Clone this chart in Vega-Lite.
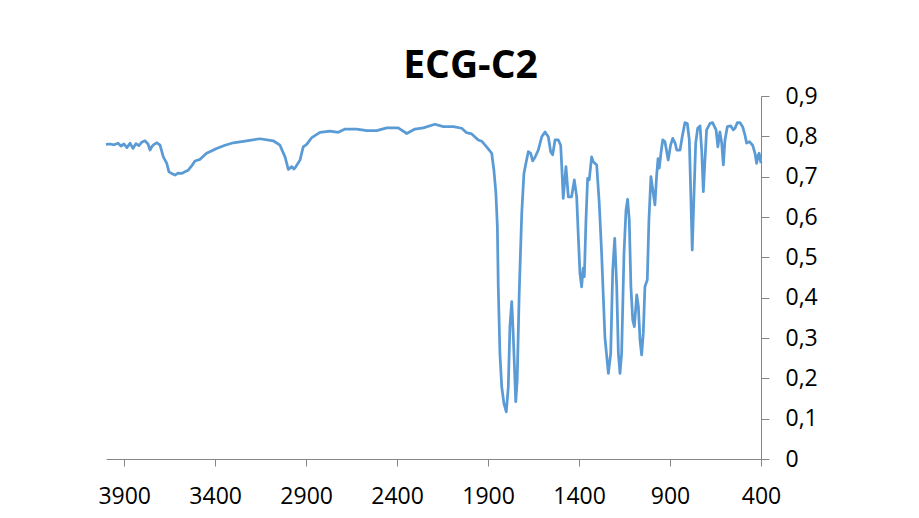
{
  "$schema": "https://vega.github.io/schema/vega-lite/v6.json",
  "width": 655,
  "height": 363,
  "autosize": {"type": "none"},
  "padding": {"left": 106, "top": 96, "right": 158, "bottom": 59},
  "background": "#ffffff",
  "config": {"view": {"stroke": null}},
  "title": {
    "text": "ECG-C2",
    "font": "Open Sans",
    "fontSize": 39,
    "fontWeight": "bold",
    "color": "#000000",
    "anchor": "middle",
    "frame": "group",
    "dx": 37,
    "baseline": "alphabetic",
    "offset": -32
  },
  "data": {
    "values": [
      {"wn": 4000, "v": 0.780}, {"wn": 3978, "v": 0.781}, {"wn": 3956, "v": 0.779}, {"wn": 3934, "v": 0.783},
      {"wn": 3918, "v": 0.776}, {"wn": 3901, "v": 0.781}, {"wn": 3885, "v": 0.772}, {"wn": 3868, "v": 0.783},
      {"wn": 3852, "v": 0.770}, {"wn": 3835, "v": 0.782}, {"wn": 3819, "v": 0.777}, {"wn": 3802, "v": 0.786},
      {"wn": 3786, "v": 0.789}, {"wn": 3769, "v": 0.781}, {"wn": 3758, "v": 0.766}, {"wn": 3749, "v": 0.774},
      {"wn": 3736, "v": 0.780}, {"wn": 3720, "v": 0.784}, {"wn": 3703, "v": 0.778}, {"wn": 3685, "v": 0.749},
      {"wn": 3666, "v": 0.733}, {"wn": 3654, "v": 0.712}, {"wn": 3639, "v": 0.708}, {"wn": 3621, "v": 0.704},
      {"wn": 3604, "v": 0.709}, {"wn": 3584, "v": 0.708}, {"wn": 3566, "v": 0.712}, {"wn": 3548, "v": 0.716},
      {"wn": 3527, "v": 0.728}, {"wn": 3511, "v": 0.739}, {"wn": 3483, "v": 0.743}, {"wn": 3447, "v": 0.758},
      {"wn": 3392, "v": 0.770}, {"wn": 3346, "v": 0.778}, {"wn": 3300, "v": 0.784}, {"wn": 3227, "v": 0.789},
      {"wn": 3154, "v": 0.794}, {"wn": 3081, "v": 0.789}, {"wn": 3044, "v": 0.778}, {"wn": 3016, "v": 0.749},
      {"wn": 2998, "v": 0.718}, {"wn": 2979, "v": 0.725}, {"wn": 2967, "v": 0.719}, {"wn": 2956, "v": 0.725},
      {"wn": 2934, "v": 0.741}, {"wn": 2916, "v": 0.774}, {"wn": 2897, "v": 0.780}, {"wn": 2869, "v": 0.797},
      {"wn": 2824, "v": 0.810}, {"wn": 2769, "v": 0.813}, {"wn": 2723, "v": 0.810}, {"wn": 2686, "v": 0.818},
      {"wn": 2622, "v": 0.818}, {"wn": 2567, "v": 0.814}, {"wn": 2512, "v": 0.814}, {"wn": 2457, "v": 0.821},
      {"wn": 2394, "v": 0.821}, {"wn": 2347, "v": 0.807}, {"wn": 2302, "v": 0.818}, {"wn": 2256, "v": 0.821},
      {"wn": 2192, "v": 0.830}, {"wn": 2146, "v": 0.824}, {"wn": 2091, "v": 0.824}, {"wn": 2045, "v": 0.820},
      {"wn": 2018, "v": 0.809}, {"wn": 1990, "v": 0.806}, {"wn": 1954, "v": 0.791}, {"wn": 1935, "v": 0.788},
      {"wn": 1908, "v": 0.774}, {"wn": 1880, "v": 0.758}, {"wn": 1868, "v": 0.716}, {"wn": 1857, "v": 0.659},
      {"wn": 1849, "v": 0.576}, {"wn": 1844, "v": 0.427}, {"wn": 1835, "v": 0.262}, {"wn": 1825, "v": 0.179},
      {"wn": 1813, "v": 0.138}, {"wn": 1800, "v": 0.117}, {"wn": 1789, "v": 0.179}, {"wn": 1780, "v": 0.328},
      {"wn": 1770, "v": 0.390}, {"wn": 1762, "v": 0.312}, {"wn": 1748, "v": 0.142}, {"wn": 1740, "v": 0.196},
      {"wn": 1729, "v": 0.411}, {"wn": 1715, "v": 0.609}, {"wn": 1703, "v": 0.708}, {"wn": 1692, "v": 0.733},
      {"wn": 1679, "v": 0.762}, {"wn": 1666, "v": 0.758}, {"wn": 1655, "v": 0.739}, {"wn": 1642, "v": 0.748},
      {"wn": 1624, "v": 0.766}, {"wn": 1605, "v": 0.799}, {"wn": 1587, "v": 0.811}, {"wn": 1569, "v": 0.799},
      {"wn": 1556, "v": 0.762}, {"wn": 1545, "v": 0.754}, {"wn": 1532, "v": 0.791}, {"wn": 1514, "v": 0.791},
      {"wn": 1501, "v": 0.778}, {"wn": 1494, "v": 0.716}, {"wn": 1487, "v": 0.646}, {"wn": 1472, "v": 0.725},
      {"wn": 1459, "v": 0.650}, {"wn": 1441, "v": 0.650}, {"wn": 1426, "v": 0.692}, {"wn": 1413, "v": 0.650},
      {"wn": 1404, "v": 0.551}, {"wn": 1395, "v": 0.460}, {"wn": 1386, "v": 0.427}, {"wn": 1377, "v": 0.473},
      {"wn": 1371, "v": 0.452}, {"wn": 1362, "v": 0.592}, {"wn": 1353, "v": 0.696}, {"wn": 1344, "v": 0.692},
      {"wn": 1331, "v": 0.749}, {"wn": 1322, "v": 0.737}, {"wn": 1303, "v": 0.729}, {"wn": 1289, "v": 0.634},
      {"wn": 1276, "v": 0.510}, {"wn": 1258, "v": 0.303}, {"wn": 1239, "v": 0.212}, {"wn": 1226, "v": 0.262},
      {"wn": 1215, "v": 0.468}, {"wn": 1204, "v": 0.547}, {"wn": 1193, "v": 0.427}, {"wn": 1184, "v": 0.262},
      {"wn": 1175, "v": 0.212}, {"wn": 1166, "v": 0.262}, {"wn": 1153, "v": 0.510}, {"wn": 1142, "v": 0.617},
      {"wn": 1133, "v": 0.644}, {"wn": 1124, "v": 0.592}, {"wn": 1115, "v": 0.427}, {"wn": 1105, "v": 0.345},
      {"wn": 1096, "v": 0.328}, {"wn": 1083, "v": 0.407}, {"wn": 1074, "v": 0.378}, {"wn": 1065, "v": 0.295},
      {"wn": 1056, "v": 0.258}, {"wn": 1047, "v": 0.312}, {"wn": 1038, "v": 0.427}, {"wn": 1025, "v": 0.444},
      {"wn": 1016, "v": 0.592}, {"wn": 1005, "v": 0.700}, {"wn": 992, "v": 0.659}, {"wn": 983, "v": 0.630},
      {"wn": 974, "v": 0.700}, {"wn": 966, "v": 0.745}, {"wn": 959, "v": 0.721}, {"wn": 950, "v": 0.758},
      {"wn": 940, "v": 0.791}, {"wn": 928, "v": 0.787}, {"wn": 910, "v": 0.741}, {"wn": 897, "v": 0.778},
      {"wn": 885, "v": 0.795}, {"wn": 872, "v": 0.783}, {"wn": 863, "v": 0.766}, {"wn": 845, "v": 0.766},
      {"wn": 833, "v": 0.799}, {"wn": 818, "v": 0.834}, {"wn": 805, "v": 0.832}, {"wn": 794, "v": 0.791},
      {"wn": 786, "v": 0.659}, {"wn": 778, "v": 0.518}, {"wn": 768, "v": 0.659}, {"wn": 759, "v": 0.783},
      {"wn": 748, "v": 0.820}, {"wn": 735, "v": 0.826}, {"wn": 726, "v": 0.766}, {"wn": 717, "v": 0.663},
      {"wn": 708, "v": 0.741}, {"wn": 699, "v": 0.816}, {"wn": 680, "v": 0.832}, {"wn": 666, "v": 0.834},
      {"wn": 647, "v": 0.816}, {"wn": 637, "v": 0.774}, {"wn": 626, "v": 0.811}, {"wn": 616, "v": 0.783},
      {"wn": 607, "v": 0.729}, {"wn": 598, "v": 0.791}, {"wn": 585, "v": 0.824}, {"wn": 567, "v": 0.826},
      {"wn": 552, "v": 0.816}, {"wn": 543, "v": 0.820}, {"wn": 530, "v": 0.834}, {"wn": 516, "v": 0.834},
      {"wn": 501, "v": 0.824}, {"wn": 488, "v": 0.803}, {"wn": 479, "v": 0.783}, {"wn": 464, "v": 0.787},
      {"wn": 446, "v": 0.778}, {"wn": 433, "v": 0.758}, {"wn": 424, "v": 0.733}, {"wn": 415, "v": 0.754},
      {"wn": 410, "v": 0.758}, {"wn": 400, "v": 0.733}
    ]
  },
  "mark": {"type": "line", "color": "#5B9BD5", "strokeWidth": 2.75, "interpolate": "linear", "strokeJoin": "round"},
  "encoding": {
    "x": {
      "field": "wn",
      "type": "quantitative",
      "scale": {"domain": [400, 4000], "reverse": true, "nice": false, "zero": false},
      "axis": {
        "title": null,
        "values": [3900, 3400, 2900, 2400, 1900, 1400, 900, 400],
        "format": "d",
        "grid": false,
        "domainColor": "#868686",
        "domainWidth": 1,
        "tickColor": "#868686",
        "tickSize": 7,
        "labelFont": "Open Sans",
        "labelFontSize": 23,
        "labelColor": "#000000",
        "labelPadding": 19,
        "labelFlush": false,
        "labelOverlap": false
      }
    },
    "y": {
      "field": "v",
      "type": "quantitative",
      "scale": {"domain": [0, 0.9], "nice": false},
      "axis": {
        "orient": "right",
        "title": null,
        "values": [0, 0.1, 0.2, 0.3, 0.4, 0.5, 0.6, 0.7, 0.8, 0.9],
        "labelExpr": "datum.value == 0 ? '0' : replace(format(datum.value, '.1f'), '.', ',')",
        "grid": false,
        "domainColor": "#868686",
        "domainWidth": 1,
        "tickColor": "#868686",
        "tickSize": 8,
        "labelFont": "Open Sans",
        "labelFontSize": 23,
        "labelColor": "#000000",
        "labelPadding": 16,
        "labelFlush": false,
        "labelOverlap": false
      }
    }
  }
}
